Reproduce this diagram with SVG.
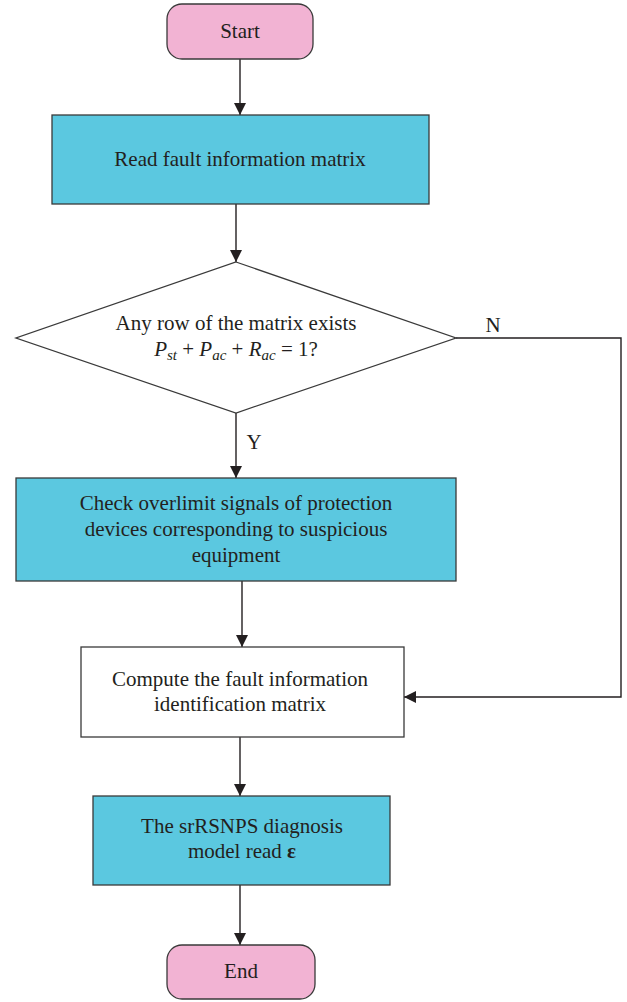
<svg xmlns="http://www.w3.org/2000/svg" width="627" height="1002" viewBox="0 0 627 1002">
<style>
  .term { fill: #f2b3d3; stroke: #3a3a3a; stroke-width: 1.3; }
  .proc { fill: #5bc8e0; stroke: #3a3a3a; stroke-width: 1.3; }
  .plain { fill: #ffffff; stroke: #3a3a3a; stroke-width: 1.3; }
  .edge { fill: none; stroke: #231f20; stroke-width: 1.4; }
  text { font-family: "Liberation Serif", "DejaVu Serif", serif; font-size: 21px; fill: #231f20; text-anchor: middle; }
  .it { font-style: italic; }
</style>
<defs>
  <marker id="arrow" viewBox="0 0 12 12" refX="12" refY="6" markerWidth="12" markerHeight="12" markerUnits="userSpaceOnUse" orient="auto">
    <path d="M0,0 L12,6 L0,12 z" fill="#231f20"/>
  </marker>
</defs>

<g id="connectors">
  <line class="edge" x1="240" y1="59" x2="240" y2="115" marker-end="url(#arrow)"/>
  <line class="edge" x1="236" y1="204" x2="236" y2="262" marker-end="url(#arrow)"/>
  <line class="edge" x1="236" y1="413" x2="236" y2="478" marker-end="url(#arrow)"/>
  <polyline class="edge" points="456,338 621,338 621,697 404,697" marker-end="url(#arrow)"/>
  <line class="edge" x1="242" y1="581" x2="242" y2="647" marker-end="url(#arrow)"/>
  <line class="edge" x1="240" y1="737" x2="240" y2="796" marker-end="url(#arrow)"/>
  <line class="edge" x1="240" y1="885" x2="240" y2="945" marker-end="url(#arrow)"/>
  <text x="493" y="332">N</text>
  <text x="254" y="449">Y</text>
</g>

<g id="start">
  <rect class="term" x="167" y="4" width="146" height="55" rx="15"/>
  <text x="240" y="38">Start</text>
</g>

<g id="read">
  <rect class="proc" x="52" y="115" width="377" height="89"/>
  <text x="240" y="166">Read fault information matrix</text>
</g>

<g id="decision">
  <polygon class="plain" points="236,262 456,338 236,413 16,338"/>
  <text x="236" y="330">Any row of the matrix exists</text>
  <text x="236" y="356"><tspan class="it">P</tspan><tspan class="it" font-size="15" dy="4">st</tspan><tspan dy="-4"> + </tspan><tspan class="it">P</tspan><tspan class="it" font-size="15" dy="4">ac</tspan><tspan dy="-4"> + </tspan><tspan class="it">R</tspan><tspan class="it" font-size="15" dy="4">ac</tspan><tspan dy="-4"> = 1?</tspan></text>
</g>

<g id="check">
  <rect class="proc" x="16" y="478" width="440" height="103"/>
  <text x="236" y="510">Check overlimit signals of protection</text>
  <text x="236" y="536">devices corresponding to suspicious</text>
  <text x="236" y="562">equipment</text>
</g>

<g id="compute">
  <rect class="plain" x="81" y="647" width="323" height="90"/>
  <text x="240" y="686">Compute the fault information</text>
  <text x="240" y="711">identification matrix</text>
</g>

<g id="model">
  <rect class="proc" x="93" y="796" width="297" height="89"/>
  <text x="242" y="833">The srRSNPS diagnosis</text>
  <text x="242" y="858">model read <tspan font-weight="bold">ε</tspan></text>
</g>

<g id="end">
  <rect class="term" x="167" y="945" width="148" height="54" rx="15"/>
  <text x="241" y="978">End</text>
</g>
</svg>
